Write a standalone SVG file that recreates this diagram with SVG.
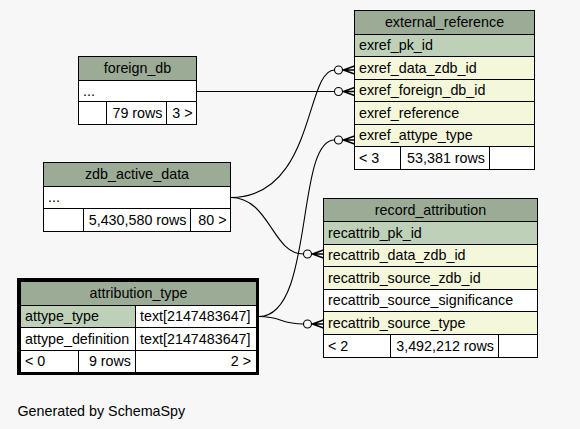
<svg xmlns="http://www.w3.org/2000/svg" width="580" height="429" viewBox="0 0 580 429">
<style>
.hdr{fill:#9bab96;stroke:#000;stroke-width:1}
.pk{fill:#bed1b8;stroke:#000;stroke-width:1}
.fk{fill:#f4f7da;stroke:#000;stroke-width:1}
.wh{fill:#ffffff;stroke:#000;stroke-width:1}
text{font-family:"Liberation Sans",Arial,Helvetica,sans-serif;font-size:14.3px;fill:#000}
.c{text-anchor:middle}
.r{text-anchor:end}
.conn path{fill:none;stroke:#000;stroke-width:1.1}
.conn circle{fill:none;stroke:#000;stroke-width:1.1}
.conn .crow{fill:none;stroke:#000;stroke-width:1.4}
</style>
<rect x="0" y="0" width="580" height="429" fill="#f7f7f7"/>

<g class="conn" id="connectors">
  <!-- foreign_db -> exref_foreign_db_id -->
  <path d="M196.5,91.5 L334.5,91.5"/>
  <circle cx="338.5" cy="91.5" r="4"/>
  <path class="crow" d="M342.5,91.5 L354.5,91.5 M343.5,91.5 L354.5,87.5 M343.5,91.5 L354.5,95.5"/>
  <!-- zdb_active_data -> exref_data_zdb_id -->
  <path d="M230.5,197.5 C315,197.5 305,70 334.5,70"/>
  <circle cx="338.5" cy="70" r="4"/>
  <path class="crow" d="M342.5,70 L354.5,70 M343.5,70 L354.5,66 M343.5,70 L354.5,74"/>
  <!-- zdb_active_data -> recattrib_data_zdb_id -->
  <path d="M230.5,197.5 C270,197.5 272,254 303.5,254"/>
  <circle cx="307.5" cy="254" r="4"/>
  <path class="crow" d="M311.5,254 L323.5,254 M312.5,254 L323.5,250 M312.5,254 L323.5,258"/>
  <!-- attribution_type -> exref_attype_type -->
  <path d="M259,316.5 C315,316.5 295,140 334.5,140"/>
  <circle cx="338.5" cy="140" r="4"/>
  <path class="crow" d="M342.5,140 L354.5,140 M343.5,140 L354.5,136 M343.5,140 L354.5,144"/>
  <!-- attribution_type -> recattrib_source_type -->
  <path d="M259,316.5 C282,316.5 280,324 303.5,324"/>
  <circle cx="307.5" cy="324" r="4"/>
  <path class="crow" d="M311.5,324 L323.5,324 M312.5,324 L323.5,320 M312.5,324 L323.5,328"/>
</g>

<g id="external_reference">
  <rect class="hdr" x="354.5" y="10.5" width="180" height="24"/>
  <text class="c" x="444.5" y="27">external_reference</text>
  <rect class="pk" x="354.5" y="34.5" width="180" height="22"/>
  <text x="359" y="50">exref_pk_id</text>
  <rect class="fk" x="354.5" y="56.5" width="180" height="23"/>
  <text x="359" y="72.5">exref_data_zdb_id</text>
  <rect class="fk" x="354.5" y="79.5" width="180" height="22"/>
  <text x="359" y="95">exref_foreign_db_id</text>
  <rect class="fk" x="354.5" y="101.5" width="180" height="23"/>
  <text x="359" y="117.5">exref_reference</text>
  <rect class="fk" x="354.5" y="124.5" width="180" height="22"/>
  <text x="359" y="140">exref_attype_type</text>
  <rect class="wh" x="354.5" y="146.5" width="46" height="23"/>
  <rect class="wh" x="400.5" y="146.5" width="89" height="23"/>
  <rect class="wh" x="489.5" y="146.5" width="45" height="23"/>
  <text x="359" y="163">&lt; 3</text>
  <text class="r" x="485" y="163">53,381 rows</text>
</g>

<g id="record_attribution">
  <rect class="hdr" x="323.5" y="198.5" width="214" height="23"/>
  <text class="c" x="430.5" y="214.5">record_attribution</text>
  <rect class="pk" x="323.5" y="221.5" width="214" height="23"/>
  <text x="328" y="237.5">recattrib_pk_id</text>
  <rect class="fk" x="323.5" y="244.5" width="214" height="22"/>
  <text x="328" y="260">recattrib_data_zdb_id</text>
  <rect class="fk" x="323.5" y="266.5" width="214" height="23"/>
  <text x="328" y="282.5">recattrib_source_zdb_id</text>
  <rect class="wh" x="323.5" y="289.5" width="214" height="22"/>
  <text x="328" y="305">recattrib_source_significance</text>
  <rect class="fk" x="323.5" y="311.5" width="214" height="23"/>
  <text x="328" y="327.5">recattrib_source_type</text>
  <rect class="wh" x="323.5" y="334.5" width="67" height="23"/>
  <rect class="wh" x="390.5" y="334.5" width="108" height="23"/>
  <rect class="wh" x="498.5" y="334.5" width="39" height="23"/>
  <text x="328" y="350.5">&lt; 2</text>
  <text class="r" x="494" y="350.5">3,492,212 rows</text>
</g>

<g id="attribution_type">
  <rect x="18.5" y="279.5" width="239" height="94" fill="#f7f7f7" stroke="#000" stroke-width="3"/>
  <rect class="hdr" x="20.5" y="281.5" width="236" height="24"/>
  <text class="c" x="138.5" y="298">attribution_type</text>
  <rect class="pk" x="20.5" y="305.5" width="115" height="22"/>
  <text x="25" y="321">attype_type</text>
  <rect class="wh" x="135.5" y="305.5" width="121" height="22"/>
  <text x="140" y="321">text[2147483647]</text>
  <rect class="wh" x="20.5" y="327.5" width="115" height="23"/>
  <text x="25" y="343.5">attype_definition</text>
  <rect class="wh" x="135.5" y="327.5" width="121" height="23"/>
  <text x="140" y="343.5">text[2147483647]</text>
  <rect class="wh" x="20.5" y="350.5" width="58" height="22"/>
  <rect class="wh" x="78.5" y="350.5" width="57" height="22"/>
  <rect class="wh" x="135.5" y="350.5" width="121" height="22"/>
  <text x="25" y="366">&lt; 0</text>
  <text class="r" x="131" y="366">9 rows</text>
  <text class="r" x="251" y="366">2 &gt;</text>
</g>

<g id="foreign_db">
  <rect class="hdr" x="78.5" y="56.5" width="118" height="24"/>
  <text class="c" x="137.5" y="73">foreign_db</text>
  <rect class="wh" x="78.5" y="80.5" width="118" height="21"/>
  <text x="83" y="95.5">...</text>
  <rect class="wh" x="78.5" y="101.5" width="28" height="23"/>
  <rect class="wh" x="106.5" y="101.5" width="60" height="23"/>
  <rect class="wh" x="166.5" y="101.5" width="30" height="23"/>
  <text class="r" x="162.5" y="117.5">79 rows</text>
  <text class="r" x="192.5" y="117.5">3 &gt;</text>
</g>

<g id="zdb_active_data">
  <rect class="hdr" x="43.5" y="162.5" width="187" height="24"/>
  <text class="c" x="137" y="179">zdb_active_data</text>
  <rect class="wh" x="43.5" y="186.5" width="187" height="22"/>
  <text x="48" y="202">...</text>
  <rect class="wh" x="43.5" y="208.5" width="40" height="23"/>
  <rect class="wh" x="83.5" y="208.5" width="107" height="23"/>
  <rect class="wh" x="190.5" y="208.5" width="40" height="23"/>
  <text class="r" x="186.5" y="224.5">5,430,580 rows</text>
  <text class="r" x="226.5" y="224.5">80 &gt;</text>
</g>

<text x="17.5" y="415.5">Generated by SchemaSpy</text>
</svg>
